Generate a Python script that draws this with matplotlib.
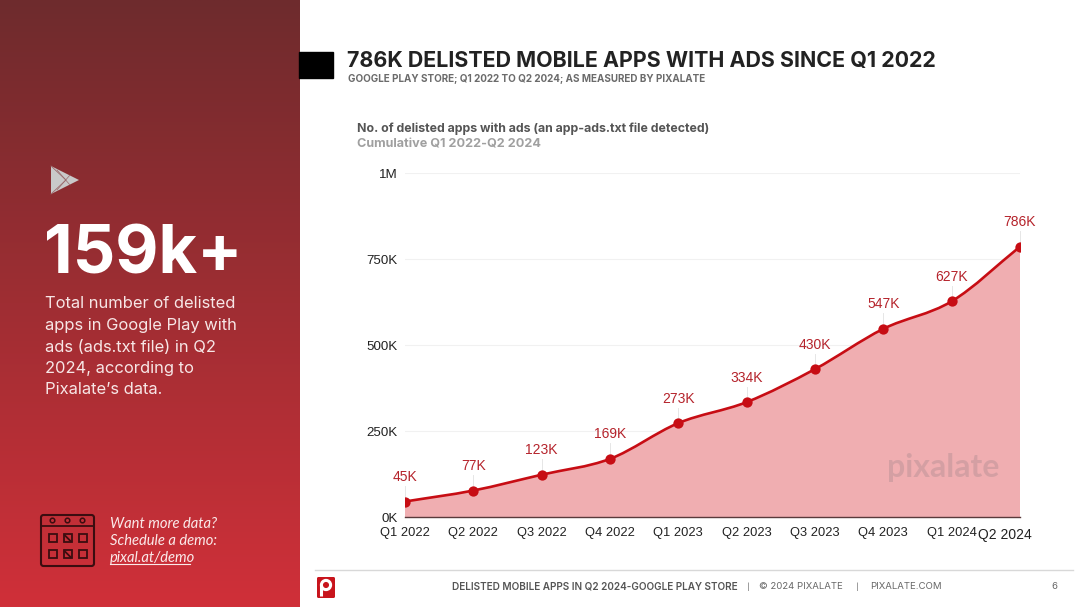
import numpy as np
import matplotlib
matplotlib.use("Agg")
import matplotlib.pyplot as plt
from matplotlib.path import Path
from matplotlib.patches import PathPatch, Rectangle, FancyBboxPatch, Polygon, Circle

quarters = ["Q1 2022", "Q2 2022", "Q3 2022", "Q4 2022", "Q1 2023",
            "Q2 2023", "Q3 2023", "Q4 2023", "Q1 2024", "Q2 2024"]
delisted = [45, 77, 123, 169, 273, 334, 430, 547, 627, 786]
point_labels = ["45K", "77K", "123K", "169K", "273K", "334K", "430K", "547K", "627K", "786K"]
y_ticks = [0, 250, 500, 750, 1000]
y_labels = ["0K", "250K", "500K", "750K", "1M"]
side_lines = ["Total number of delisted", "apps in Google Play with", "ads (ads.txt file) in Q2",
              "2024, according to", "Pixalate\u2019s data."]
demo_lines = ["Want more data?", "Schedule a demo:", "pixal.at/demo"]

W, H = 1080, 607
RED = "#c70d14"
LABEL_RED = "#b5232b"

fig = plt.figure(figsize=(W / 100, H / 100), dpi=100, facecolor="white")

# page layer in pixel coordinates
bg = fig.add_axes([0, 0, 1, 1], zorder=0)
bg.set_xlim(0, W)
bg.set_ylim(H, 0)
bg.axis("off")

# left panel gradient, dark at the top
top = np.array([0x6e, 0x2b, 0x2d]) / 255
bottom = np.array([0xd0, 0x30, 0x39]) / 255
t = np.linspace(0, 1, 256)[:, None, None]
grad = top[None, None, :] * (1 - t) + bottom[None, None, :] * t
bg.imshow(grad, extent=(0, 300, H, 0), aspect="auto", zorder=1)
bg.set_xlim(0, W)
bg.set_ylim(H, 0)

# header block and titles
bg.add_patch(Rectangle((299, 52), 34, 26, color="black", zorder=2))
bg.text(347, 60.5, "786K DELISTED MOBILE APPS WITH ADS SINCE Q1 2022", family="Inter",
        weight="bold", fontsize=15.45, color="#222222", va="center", ha="left")
bg.text(348, 79, "GOOGLE PLAY STORE; Q1 2022 TO Q2 2024; AS MEASURED BY PIXALATE", family="Inter",
        weight="bold", fontsize=7.1, color="#6b6b6b", va="center", ha="left")
bg.text(357, 129, "No. of delisted apps with ads (an app-ads.txt file detected)", family="Inter",
        weight="bold", fontsize=8.9, color="#555555", va="center", ha="left")
bg.text(357, 145, "Cumulative Q1 2022-Q2 2024", family="Inter",
        weight="bold", fontsize=9.1, color="#a0a0a0", va="center", ha="left")

# play store icon
bg.add_patch(Polygon([(51, 166), (79, 180), (51, 194)], closed=True, fc="#c9c9c9", ec="none", zorder=3))
bg.plot([51, 66, 51], [166, 180, 194], color="#9a6a6c", lw=0.6, zorder=4)
bg.plot([57, 70], [190, 175], color="#9a6a6c", lw=0.5, zorder=4)
bg.plot([57, 70], [170, 185], color="#9a6a6c", lw=0.5, zorder=4)

# left panel text
bg.text(44, 256, "159k+", family="Inter", weight="bold", fontsize=48, color="white",
        va="center", ha="left", zorder=4)
for i, line in enumerate(side_lines):
    bg.text(45, 304 + i * 21.5, line, family="Inter", fontsize=11.9, color="#f7e6e6",
            va="center", ha="left", zorder=4)
for i, line in enumerate(demo_lines):
    bg.text(110, 524.5 + i * 16.7, line, family="Lato", style="italic", fontsize=10.6,
            color="#fbeaea", va="center", ha="left", zorder=4)
bg.plot([110, 190], [564, 564], color="#fbeaea", lw=0.8, zorder=4)

# calendar icon
CAL = "#3a0d10"
bg.add_patch(FancyBboxPatch((41, 515), 53, 51, boxstyle="round,pad=0,rounding_size=2.5",
                            fc="none", ec=CAL, lw=1.5, zorder=4))
bg.plot([41, 94], [526, 526], color=CAL, lw=1.3, zorder=4)
for cx in (52.5, 67.5, 82.5):
    bg.add_patch(Circle((cx, 520.5), 2.3, fc="none", ec=CAL, lw=1.1, zorder=4))
for row, cy in enumerate((538, 554)):
    for col, cx in enumerate((52.5, 67.5, 82.5)):
        bg.add_patch(Rectangle((cx - 4, cy - 4), 8, 8, fc="none", ec=CAL, lw=1.3, zorder=4))
        if (row + col) % 2 == (1 if row == 0 else 0):
            bg.plot([cx - 3, cx + 3], [cy - 3, cy + 3], color=CAL, lw=1.3, zorder=4)

# footer
bg.plot([315, 1073], [569.5, 569.5], color="#d8d8d8", lw=1, zorder=2)
bg.add_patch(FancyBboxPatch((317, 577), 18, 21, boxstyle="round,pad=0,rounding_size=1.5",
                            fc="#c8141c", ec="none", zorder=3))
bg.add_patch(Circle((326, 585), 4.6, fc="none", ec="white", lw=2.2, zorder=4))
bg.plot([321.4, 321.4], [585, 596], color="white", lw=2.2, zorder=4, solid_capstyle="butt")
footer_y = 586.5
bg.text(452, footer_y, "DELISTED MOBILE APPS IN Q2 2024-GOOGLE PLAY STORE", family="Inter", weight="semibold",
        fontsize=7.2, color="#555555", va="center", ha="left")
bg.text(748, footer_y, "|", family="Inter", fontsize=5.5, color="#666666", va="center", ha="center")
bg.text(759, footer_y, "\u00a9 2024 PIXALATE", family="Inter", fontsize=6.9, color="#666666", va="center", ha="left")
bg.text(857, footer_y, "|", family="Inter", fontsize=5.5, color="#666666", va="center", ha="center")
bg.text(870, footer_y, "PIXALATE.COM", family="Inter", fontsize=6.9, color="#666666", va="center", ha="left")
bg.text(1054, footer_y, "6", family="Inter", fontsize=6.9, color="#666666", va="center", ha="center")

# chart: plot box runs 405-1020 px across and 173-517 px down
left, right, ytop, ybot = 405, 1020, 173, 517
ax = fig.add_axes([left / W, 1 - ybot / H, (right - left) / W, (ybot - ytop) / H], zorder=1)
ax.patch.set_alpha(0)
x = np.arange(len(delisted))
y = np.array(delisted, dtype=float)
ax.set_xlim(0, len(x) - 1)
ax.set_ylim(0, 1000)

# smooth line as bezier segments through the data points
slopes = np.gradient(y, x)
verts = [(x[0], y[0])]
codes = [Path.MOVETO]
for i in range(len(x) - 1):
    verts += [(x[i] + 1 / 3, y[i] + slopes[i] / 3),
              (x[i + 1] - 1 / 3, y[i + 1] - slopes[i + 1] / 3),
              (x[i + 1], y[i + 1])]
    codes += [Path.CURVE4] * 3
area = PathPatch(Path(verts + [(x[-1], 0), (x[0], 0), (x[0], y[0])],
                      codes + [Path.LINETO, Path.LINETO, Path.LINETO]),
                 fc="#f0aeb1", ec="none", zorder=2)
ax.add_patch(area)
ax.add_patch(PathPatch(Path(verts, codes), fc="none", ec=RED, lw=1.9, zorder=3))
ax.scatter(x, y, s=55, color=RED, zorder=4, clip_on=True, linewidths=0)

ax.set_yticks(y_ticks, y_labels)
ax.set_xticks(x[:-1], quarters[:-1])
ax.tick_params(length=0, labelsize=9.3, labelcolor="#222222", pad=7.5)
ax.tick_params(axis="y", labelsize=9.6, pad=5)
for lab in ax.get_xticklabels() + ax.get_yticklabels():
    lab.set_family("Liberation Sans")
ax.grid(axis="y", color="#f1f1f1", lw=0.8)
ax.set_axisbelow(True)
for s in ("top", "left", "right"):
    ax.spines[s].set_visible(False)
ax.spines["bottom"].set_color("#5a3a3c")
ax.spines["bottom"].set_linewidth(1)

# last tick label sits apart from the others, a bit larger
ax.annotate(quarters[-1], (x[-1], 0), xytext=(-15, -18), textcoords="offset pixels",
            family="Liberation Sans", fontsize=10, color="#222222", ha="center", va="center",
            annotation_clip=False)

for xi, yi, lab in zip(x, y, point_labels):
    ax.annotate(lab, (xi, yi), xytext=(0, 24.5), textcoords="offset pixels", family="Liberation Sans",
                fontsize=10, color=LABEL_RED, ha="center", va="center", annotation_clip=False, zorder=5)
    ax.plot([xi, xi], [yi, yi + 45], color="#e6e6e6", lw=0.7, zorder=1, clip_on=False)

# watermark
ax.text(0.8756, 0.145, "pixalate", transform=ax.transAxes, family="Lato", weight="bold", fontsize=23,
        color="#c99a9e", alpha=0.7, ha="center", va="center", zorder=3)

fig.savefig("out.png", dpi=100)
